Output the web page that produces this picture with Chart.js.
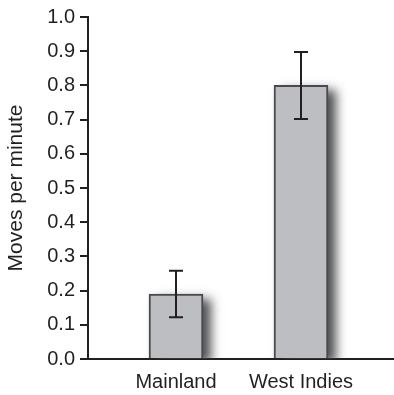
<!DOCTYPE html>
<html>
<head>
<meta charset="utf-8">
<script src="https://cdn.jsdelivr.net/npm/chart.js@4.4.1/dist/chart.umd.min.js"></script>
<style>
  html,body{margin:0;padding:0;background:#fff}
  #wrap{width:394px;height:395px}
</style>
</head>
<body>
<div id="wrap"><canvas id="c"></canvas></div>
<script>
const categories = ['Mainland', 'West Indies'];
const means      = [0.19, 0.80];
const errs       = [0.068, 0.098];
const yTicks     = [0, 0.1, 0.2, 0.3, 0.4, 0.5, 0.6, 0.7, 0.8, 0.9, 1.0];

const ink = '#231f20';
const barFill = '#bdbec2';
const font = { family: '"Liberation Sans", Arial, sans-serif', size: 20 };

/* soft grey shadow to the right of each bar (bar element clips its own shadow, so paint it first) */
const barShadow = {
  id: 'barShadow',
  beforeDatasetDraw(chart, args){
    const { ctx, chartArea:a } = chart;
    ctx.save();
    ctx.beginPath();
    ctx.rect(a.left, a.top - 20, a.right - a.left, a.bottom - a.top + 20);
    ctx.clip();
    ctx.shadowColor = 'rgba(60,60,62,0.9)';
    ctx.shadowBlur = 10;
    ctx.shadowOffsetX = 8;
    ctx.shadowOffsetY = 5;
    ctx.fillStyle = barFill;
    args.meta.data.forEach(bar => {
      const { x, y, base, width } = bar.getProps(['x', 'y', 'base', 'width'], true);
      ctx.fillRect(x - width / 2, y, width, base - y);
    });
    ctx.restore();
  }
};

/* error whiskers */
const errorBars = {
  id: 'errorBars',
  afterDatasetsDraw(chart){
    const { ctx, scales:{ x, y } } = chart;
    ctx.save();
    ctx.strokeStyle = ink;
    ctx.lineWidth = 2;
    means.forEach((m, i) => {
      const px = x.getPixelForValue(i);
      const top = y.getPixelForValue(m + errs[i]);
      const bot = y.getPixelForValue(m - errs[i]);
      ctx.beginPath();
      ctx.moveTo(px, top); ctx.lineTo(px, bot);
      ctx.moveTo(px - 7, top); ctx.lineTo(px + 7, top);
      ctx.moveTo(px - 7, bot); ctx.lineTo(px + 7, bot);
      ctx.stroke();
    });
    ctx.restore();
  }
};

new Chart(document.getElementById('c'), {
  type: 'bar',
  data: {
    datasets: [{
      data: means.map((v, i) => ({ x: i, y: v })),
      backgroundColor: barFill,
      borderColor: '#4a4a4c',
      borderWidth: 2,
      barThickness: 54
    }]
  },
  options: {
    responsive: true,
    maintainAspectRatio: false,
    animation: false,
    layout: { padding: { top: 16, right: 0, left: 0, bottom: 0 } },
    plugins: { legend: { display: false }, tooltip: { enabled: false } },
    scales: {
      x: {
        type: 'linear',
        offset: false,
        bounds: 'data',
        min: -0.704,
        max: 1.744,
        afterBuildTicks(s){ s.ticks = categories.map((c, i) => ({ value: i })); },
        afterFit(s){ s.height = 36; },
        grid: { display: false, drawTicks: false, offset: false },
        border: { display: true, color: ink, width: 2 },
        ticks: {
          color: ink, font, padding: 11, autoSkip: false, maxRotation: 0,
          callback: v => categories[v]
        }
      },
      y: {
        min: 0,
        max: 1,
        afterBuildTicks(s){ s.ticks = yTicks.map(v => ({ value: v })); },
        afterFit(s){ s.width = 88; },
        grid: { drawOnChartArea: false, drawTicks: true, tickLength: 8, color: ink, lineWidth: 2 },
        border: { display: true, color: ink, width: 2 },
        ticks: { color: ink, font, padding: 5, callback: v => v.toFixed(1) },
        title: {
          display: true, text: 'Moves per minute', color: ink,
          font: { family: font.family, size: 21 },
          padding: { top: 4, bottom: 0 }
        }
      }
    }
  },
  plugins: [barShadow, errorBars]
});
</script>
</body>
</html>
